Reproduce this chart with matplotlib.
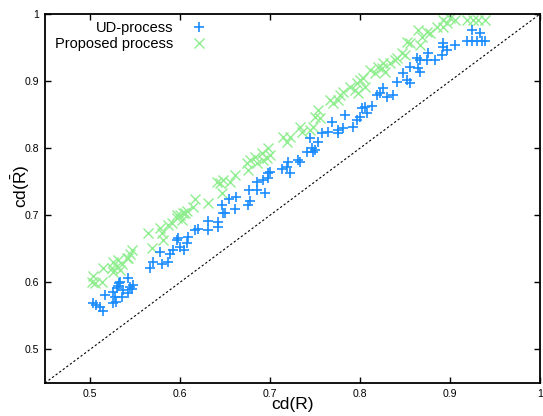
import matplotlib
matplotlib.use("Agg")
import matplotlib.pyplot as plt

plt.rcParams['font.family'] = ['Liberation Sans', 'DejaVu Sans']
plt.rcParams['mathtext.fontset'] = 'custom'
plt.rcParams['mathtext.rm'] = 'Liberation Sans'

ud_x = [0.503, 0.507, 0.511, 0.514, 0.517, 0.526, 0.529, 0.528, 0.530, 0.531,
        0.526, 0.532, 0.536, 0.537, 0.542, 0.544, 0.547, 0.548, 0.542, 0.533,
        0.567, 0.570, 0.578, 0.580, 0.587, 0.589, 0.597, 0.592, 0.600, 0.604,
        0.608, 0.609, 0.598, 0.617, 0.620, 0.631, 0.631, 0.642, 0.642, 0.647,
        0.648, 0.650, 0.654, 0.661, 0.662, 0.676, 0.678, 0.677, 0.686, 0.686,
        0.694, 0.692, 0.698, 0.698, 0.700, 0.713, 0.719, 0.720, 0.722, 0.731,
        0.733, 0.741, 0.747, 0.748, 0.750, 0.744, 0.753, 0.758, 0.764, 0.769,
        0.776, 0.776, 0.781, 0.783, 0.792, 0.797, 0.800, 0.802, 0.806, 0.808,
        0.813, 0.819, 0.822, 0.826, 0.830, 0.837, 0.841, 0.848, 0.852, 0.856,
        0.856, 0.864, 0.867, 0.867, 0.876, 0.874, 0.883, 0.891, 0.892, 0.897,
        0.906, 0.892, 0.924, 0.933, 0.919, 0.924, 0.930, 0.936, 0.939, 0.863]
ud_y = [0.569, 0.567, 0.564, 0.557, 0.581, 0.569, 0.570, 0.578, 0.591, 0.594,
        0.585, 0.599, 0.578, 0.588, 0.607, 0.593, 0.590, 0.596, 0.584, 0.600,
        0.621, 0.630, 0.645, 0.628, 0.630, 0.643, 0.663, 0.648, 0.652, 0.648,
        0.658, 0.667, 0.666, 0.678, 0.679, 0.678, 0.691, 0.690, 0.682, 0.715,
        0.704, 0.703, 0.724, 0.709, 0.727, 0.715, 0.721, 0.737, 0.737, 0.749,
        0.733, 0.752, 0.763, 0.755, 0.764, 0.769, 0.772, 0.779, 0.763, 0.782,
        0.779, 0.794, 0.801, 0.794, 0.797, 0.815, 0.809, 0.822, 0.824, 0.839,
        0.827, 0.822, 0.830, 0.849, 0.831, 0.842, 0.846, 0.860, 0.861, 0.852,
        0.863, 0.879, 0.882, 0.890, 0.876, 0.879, 0.899, 0.912, 0.901, 0.897,
        0.921, 0.919, 0.913, 0.931, 0.942, 0.931, 0.931, 0.939, 0.951, 0.946,
        0.954, 0.957, 0.976, 0.972, 0.960, 0.960, 0.960, 0.960, 0.960, 0.934]

prop_x = [0.503, 0.502, 0.506, 0.513, 0.514, 0.524, 0.526, 0.530, 0.531, 0.533,
          0.526, 0.536, 0.541, 0.544, 0.547, 0.542, 0.564, 0.569, 0.578, 0.580,
          0.581, 0.587, 0.591, 0.597, 0.600, 0.603, 0.608, 0.602, 0.597, 0.606,
          0.617, 0.614, 0.631, 0.641, 0.644, 0.648, 0.647, 0.656, 0.661, 0.674,
          0.676, 0.678, 0.683, 0.686, 0.691, 0.697, 0.698, 0.700, 0.692, 0.714,
          0.719, 0.722, 0.733, 0.736, 0.744, 0.748, 0.750, 0.753, 0.756, 0.767,
          0.770, 0.776, 0.778, 0.781, 0.789, 0.797, 0.798, 0.794, 0.800, 0.803,
          0.806, 0.817, 0.820, 0.824, 0.826, 0.828, 0.833, 0.841, 0.850, 0.852,
          0.856, 0.867, 0.869, 0.874, 0.878, 0.886, 0.892, 0.897, 0.892, 0.900,
          0.906, 0.919, 0.926, 0.931, 0.939, 0.864, 0.847, 0.839, 0.811]
prop_y = [0.610, 0.600, 0.599, 0.600, 0.622, 0.622, 0.630, 0.625, 0.633, 0.618,
          0.615, 0.628, 0.637, 0.643, 0.648, 0.636, 0.673, 0.651, 0.681, 0.673,
          0.663, 0.685, 0.688, 0.696, 0.700, 0.703, 0.707, 0.693, 0.700, 0.704,
          0.725, 0.712, 0.718, 0.749, 0.748, 0.752, 0.733, 0.749, 0.760, 0.778,
          0.767, 0.782, 0.787, 0.778, 0.793, 0.785, 0.801, 0.790, 0.782, 0.816,
          0.809, 0.816, 0.831, 0.824, 0.827, 0.831, 0.846, 0.857, 0.845, 0.872,
          0.867, 0.872, 0.879, 0.884, 0.891, 0.897, 0.882, 0.887, 0.901, 0.904,
          0.891, 0.912, 0.921, 0.919, 0.927, 0.913, 0.927, 0.934, 0.939, 0.958,
          0.957, 0.954, 0.966, 0.973, 0.972, 0.981, 0.981, 0.987, 0.991, 0.994,
          0.991, 0.991, 0.991, 0.991, 0.991, 0.976, 0.942, 0.931, 0.916]

diag = [0.45, 1.0]
tick_vals = [0.5, 0.6, 0.7, 0.8, 0.9, 1.0]
tick_labels = ['0.5', '0.6', '0.7', '0.8', '0.9', '1']

fig = plt.figure(figsize=(5.43, 4.16), dpi=100)
ax = fig.add_axes([45/543, 33/416, 495/543, 369/416])

ax.plot(diag, diag, color='black', linestyle=(0, (2, 2)), linewidth=0.8, zorder=1)
ax.plot(ud_x, ud_y, linestyle='none', marker='+', markersize=7, markeredgewidth=1.2,
        color='#1a8cff', label='UD-process', zorder=3)
ax.plot(prop_x, prop_y, linestyle='none', marker='x', markersize=6.5, markeredgewidth=1.0,
        color='#90ee90', label='Proposed process', zorder=2)

ax.set_xlim(0.45, 1.0)
ax.set_ylim(0.45, 1.0)
ax.set_xticks(tick_vals)
ax.set_xticklabels(tick_labels)
ax.set_yticks(tick_vals)
ax.set_yticklabels(tick_labels)
ax.tick_params(direction='in', length=4, width=1, top=True, right=True,
               labelsize=7.6, colors='black', pad=4.5)
for s in ax.spines.values():
    s.set_linewidth(1.3)

ax.set_xlabel('cd(R)', fontsize=12.5)
ax.xaxis.set_label_coords(0.5, -0.038)
ax.set_ylabel(r'cd($\bar{\mathrm{R}}$)', fontsize=12.5)
ax.yaxis.set_label_coords(-0.026, 0.533)

leg = ax.legend(loc='upper left', markerfirst=False, frameon=False, fontsize=10.5,
                handlelength=1.5, handletextpad=1.0, borderaxespad=0.2,
                labelspacing=0.15, bbox_to_anchor=(0.003, 1.005))
for t in leg.get_texts():
    t.set_ha('right')

fig.savefig('out.png', dpi=100)
